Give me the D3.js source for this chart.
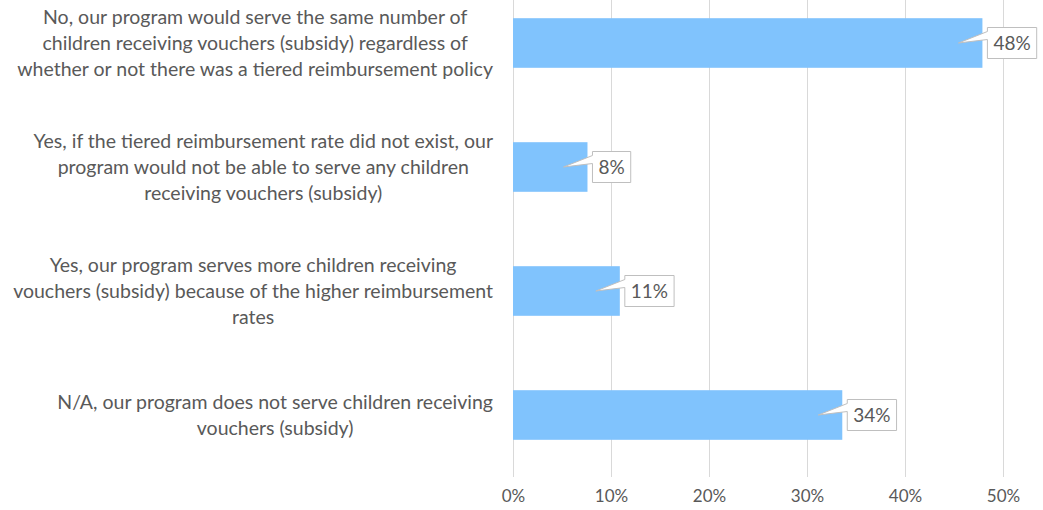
<!DOCTYPE html>
<html>
<head>
<meta charset="utf-8">
<script src="https://cdn.jsdelivr.net/npm/d3@7"></script>
<style>
  html, body { margin: 0; padding: 0; background: #fff; }
  svg { display: block; font-family: Lato, "Open Sans", sans-serif; }
</style>
</head>
<body>
<svg id="chart" width="1043" height="510"></svg>
<script>
// answer categories (each entry = wrapped lines, as in the source chart)
const categories = [
  ["No, our program would serve the same number of",
   "children receiving vouchers (subsidy) regardless of",
   "whether or not there was a tiered reimbursement policy"],
  ["Yes, if the tiered reimbursement rate did not exist, our",
   "program would not be able to serve any children",
   "receiving vouchers (subsidy)"],
  ["Yes, our program serves more children receiving",
   "vouchers (subsidy) because of the higher reimbursement",
   "rates"],
  ["N/A, our program does not serve children receiving",
   "vouchers (subsidy)"]
];
const values = [0.479, 0.076, 0.109, 0.336];
const valueLabels = ["48%", "8%", "11%", "34%"];
const xTicks = [0, 0.1, 0.2, 0.3, 0.4, 0.5];

const plot = { left: 513, right: 1003, top: -19, bottom: 477 };
const TEXT = "#595959", GRID = "#d9d9d9", BAR = "#80c3fd";

const svg = d3.select("#chart");

const x = d3.scaleLinear().domain([0, 0.5]).range([plot.left, plot.right]);
const y = d3.scaleBand()
  .domain(d3.range(categories.length))
  .range([plot.top, plot.bottom])
  .paddingInner(0.6)
  .paddingOuter(0.3);

// gridlines
svg.append("g")
  .selectAll("line")
  .data(xTicks)
  .join("line")
  .attr("x1", d => Math.round(x(d)) + 0.5)
  .attr("x2", d => Math.round(x(d)) + 0.5)
  .attr("y1", 0)
  .attr("y2", plot.bottom)
  .attr("stroke", GRID)
  .attr("stroke-width", 1);

// x axis tick labels
const xAxis = d3.axisBottom(x).tickValues(xTicks).tickFormat(d3.format(".0%")).tickSize(0).tickPadding(13);
const gx = svg.append("g").attr("transform", `translate(0,${plot.bottom})`).call(xAxis);
gx.select(".domain").remove();
gx.selectAll("text")
  .attr("fill", TEXT)
  .style("font-size", "17px")
  .style("font-family", "Lato, 'Open Sans', sans-serif");

// bars
svg.append("g")
  .selectAll("rect")
  .data(values)
  .join("rect")
  .attr("x", x(0))
  .attr("y", (d, i) => y(i))
  .attr("width", d => x(d) - x(0))
  .attr("height", y.bandwidth())
  .attr("fill", BAR);

// category labels: centered block, right edge at ~492
const labelRight = 493, lineH = 26, labelSize = 19.5;
categories.forEach((lines, i) => {
  const cy = y(i) + y.bandwidth() / 2;
  const g = svg.append("g");
  const t = g.append("text")
    .attr("text-anchor", "middle")
    .attr("fill", TEXT)
    .style("font-size", labelSize + "px");
  lines.forEach((ln, k) => {
    t.append("tspan")
      .attr("x", 0)
      .attr("y", cy + (k - (lines.length - 1) / 2) * lineH)
      .attr("dy", "0.35em")
      .text(ln);
  });
  const w = t.node().getBBox().width;
  t.attr("transform", `translate(${labelRight - w / 2},0)`);
});

// value callouts
const boxH = 31;
values.forEach((v, i) => {
  const cy = y(i) + y.bandwidth() / 2;
  const end = x(v);
  const g = svg.append("g");
  const t = g.append("text")
    .attr("fill", TEXT)
    .style("font-size", "19px")
    .attr("dy", "0.35em")
    .text(valueLabels[i]);
  const tw = t.node().getComputedTextLength();
  const bx = end + 5, by = cy - boxH / 2, bw = tw + 12;
  const tipX = end - 24;
  const path = d3.path();
  path.moveTo(bx, by);
  path.lineTo(bx + bw, by);
  path.lineTo(bx + bw, by + boxH);
  path.lineTo(bx, by + boxH);
  path.lineTo(bx, by + 12);
  path.lineTo(tipX, cy);
  path.lineTo(bx, by + 4);
  path.closePath();
  g.insert("path", "text")
    .attr("d", path.toString())
    .attr("fill", "#fff")
    .attr("stroke", "#bfbfbf")
    .attr("stroke-width", 1);
  t.attr("x", bx + 6).attr("y", cy);
});
</script>
</body>
</html>
